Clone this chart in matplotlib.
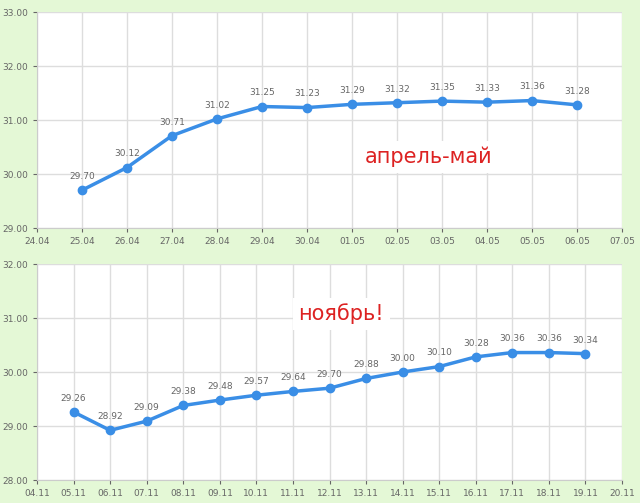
import matplotlib.pyplot as plt

top_ticks = ['24.04', '25.04', '26.04', '27.04', '28.04', '29.04', '30.04',
             '01.05', '02.05', '03.05', '04.05', '05.05', '06.05', '07.05']
top_vals = [29.70, 30.12, 30.71, 31.02, 31.25, 31.23, 31.29, 31.32, 31.35, 31.33, 31.36, 31.28]

bot_ticks = ['04.11', '05.11', '06.11', '07.11', '08.11', '09.11', '10.11', '11.11', '12.11',
             '13.11', '14.11', '15.11', '16.11', '17.11', '18.11', '19.11', '20.11']
bot_vals = [29.26, 28.92, 29.09, 29.38, 29.48, 29.57, 29.64, 29.70, 29.88, 30.00,
            30.10, 30.28, 30.36, 30.36, 30.34]

fig = plt.figure(figsize=(6.4, 5.03), dpi=100, facecolor='#e4f8d6')
W, H = 640, 503
ax1 = fig.add_axes([37 / W, 1 - 228 / H, 585 / W, 216 / H])
ax2 = fig.add_axes([37 / W, 1 - 480 / H, 585 / W, 216 / H])

def draw(ax, ticks, vals, ylim, note, note_xy):
    xs = list(range(1, len(vals) + 1))
    ax.plot(xs, vals, color='#3a8ee6', lw=2.5, marker='o', ms=6, zorder=3)
    for x, v in zip(xs, vals):
        ax.annotate(f'{v:.2f}', (x, v), xytext=(0, 8), textcoords='offset points',
                    ha='center', fontsize=6.5, color='#666666')
    ax.set_xlim(0, len(ticks) - 1)
    ax.set_xticks(range(len(ticks)))
    ax.set_xticklabels(ticks)
    ax.set_ylim(*ylim)
    ax.set_yticks([ylim[0] + i for i in range(5)])
    ax.yaxis.set_major_formatter(plt.FormatStrFormatter('%.2f'))
    ax.grid(color='#dddddd', lw=1)
    ax.set_facecolor('white')
    for s in ax.spines.values():
        s.set_visible(False)
    ax.spines['left'].set_visible(True)
    ax.spines['bottom'].set_visible(True)
    ax.spines['left'].set_color('#cccccc')
    ax.spines['bottom'].set_color('#cccccc')
    ax.tick_params(labelsize=6.5, colors='#666666', length=3, labelcolor='#666666')
    ax.text(note_xy[0], note_xy[1], note, color='#dd2222', fontsize=15,
            ha='center', va='center', transform=ax.transAxes,
            bbox=dict(facecolor='white', edgecolor='none', pad=4))

draw(ax1, top_ticks, top_vals, (29, 33), 'апрель-май', (0.67, 0.33))
draw(ax2, bot_ticks, bot_vals, (28, 32), 'ноябрь!', (0.52, 0.77))

fig.savefig('out.png', dpi=100, facecolor=fig.get_facecolor())
